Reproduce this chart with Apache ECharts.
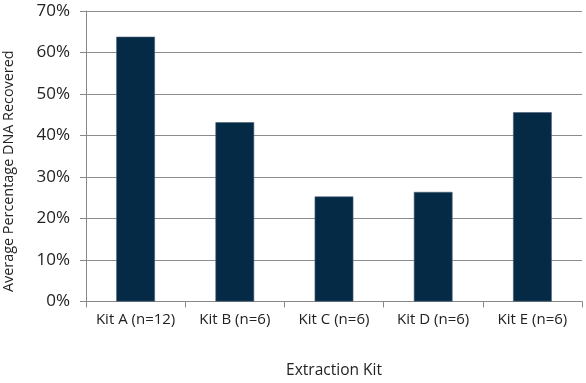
<!DOCTYPE html>
<html><head><meta charset="utf-8">
<script src="https://cdn.jsdelivr.net/npm/echarts@6/dist/echarts.min.js"></script>
<style>html,body{margin:0;padding:0;background:#fff}#c{width:586px;height:383px}</style>
</head><body><div id="c"></div>
<script>
const categories = ['Kit A (n=12)', 'Kit B (n=6)', 'Kit C (n=6)', 'Kit D (n=6)', 'Kit E (n=6)'];
const recovered = [0.638, 0.432, 0.253, 0.264, 0.456];
const chart = echarts.init(document.getElementById('c'), null, {renderer: 'canvas'});
const font = '"Open Sans", sans-serif';
chart.setOption({
  animation: false,
  grid: {left: 86, right: 4, top: 11, bottom: 81.5, containLabel: false, outerBoundsMode: 'none'},
  xAxis: {
    type: 'category', data: categories,
    name: 'Extraction Kit', nameLocation: 'middle', nameGap: 61,
    nameTextStyle: {fontFamily: font, fontSize: 15.5, color: '#222'},
    axisLine: {lineStyle: {color: '#888', width: 1}},
    axisTick: {show: true, length: 6, lineStyle: {color: '#888'}, alignWithLabel: false},
    axisLabel: {fontFamily: font, fontSize: 15, color: '#222', margin: 11, interval: 0, hideOverlap: false}
  },
  yAxis: {
    type: 'value', min: 0, max: 0.7, interval: 0.1,
    name: 'Average Percentage DNA Recovered', nameLocation: 'middle', nameGap: 70,
    nameTextStyle: {fontFamily: font, fontSize: 14.4, color: '#222', padding: [0, 30, 0, 0]},
    axisLine: {show: true, lineStyle: {color: '#888', width: 1}},
    axisTick: {show: true, length: 6, lineStyle: {color: '#888'}},
    axisLabel: {fontFamily: font, fontSize: 17, color: '#222', margin: 16,
      formatter: v => Math.round(v * 100) + '%'},
    splitLine: {lineStyle: {color: '#8c8c8c', width: 1}}
  },
  series: [{
    type: 'bar', data: recovered, barWidth: '39%',
    itemStyle: {color: '#052a46', borderColor: '#4a6076', borderWidth: 0.6}
  }]
});
</script></body></html>
